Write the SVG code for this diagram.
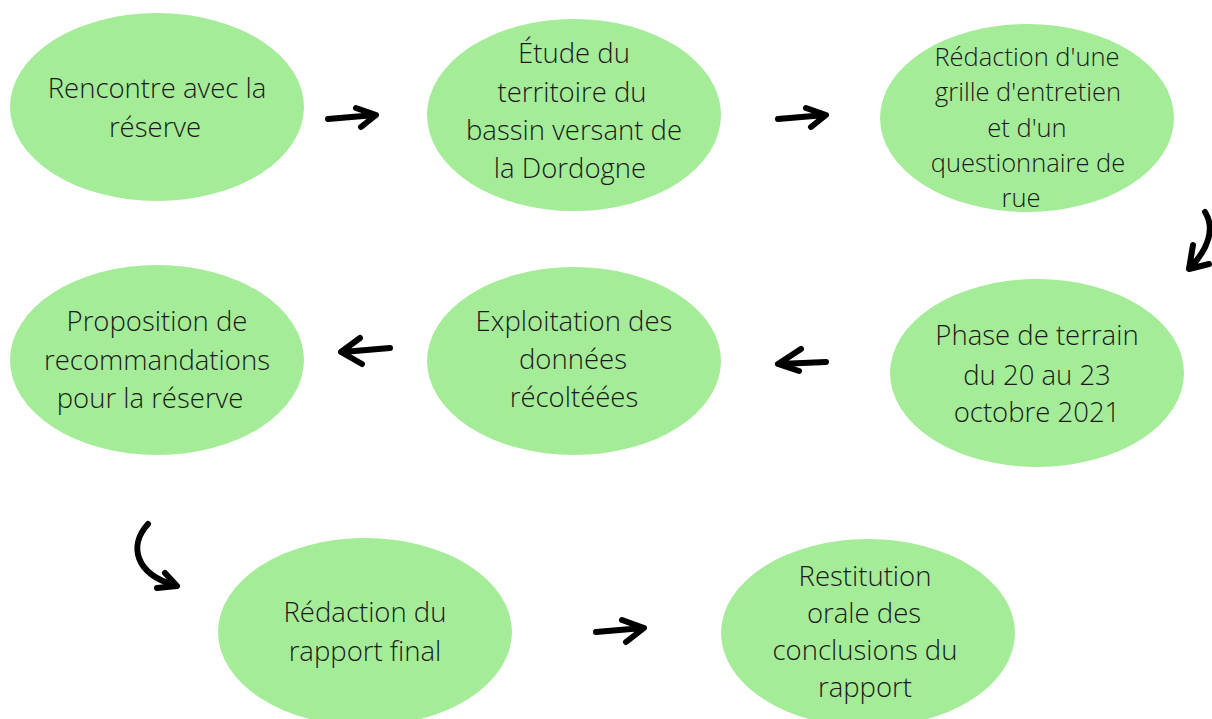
<svg xmlns="http://www.w3.org/2000/svg" width="1212" height="719" viewBox="0 0 1212 719">
<style>
.n{fill:#a4ec97}
.t{font-family:"Open Sans","Liberation Sans",sans-serif;font-weight:300;font-size:27.5px;fill:#1a1a1a;text-anchor:middle}
.s{font-size:25.5px}
.a{fill:none;stroke:#000;stroke-width:6;stroke-linecap:round;stroke-linejoin:round}
</style>
<rect width="1212" height="719" fill="#fff"/>
<g id="n1"><ellipse class="n" cx="157" cy="107" rx="147" ry="94"/>
<text class="t" x="157" y="98">Rencontre avec la</text><text class="t" x="155" y="137">réserve</text></g>
<g id="n2"><ellipse class="n" cx="574" cy="115" rx="147" ry="96"/>
<text class="t" x="574" y="63">Étude du</text><text class="t" x="572" y="102">territoire du</text><text class="t" x="574" y="140">bassin versant de</text><text class="t" x="570" y="178">la Dordogne</text></g>
<g id="n3"><ellipse class="n" cx="1027" cy="118" rx="147" ry="94"/>
<text class="t s" x="1027" y="66">Rédaction d'une</text><text class="t s" x="1028" y="101">grille d'entretien</text><text class="t s" x="1027" y="137">et d'un</text><text class="t s" x="1028" y="172">questionnaire de</text><text class="t s" x="1021" y="207">rue</text></g>
<g id="n4"><ellipse class="n" cx="157" cy="360" rx="147" ry="95"/>
<text class="t" x="157" y="331">Proposition de</text><text class="t" x="157" y="370">recommandations</text><text class="t" x="150" y="408">pour la réserve</text></g>
<g id="n5"><ellipse class="n" cx="574" cy="361" rx="147" ry="94"/>
<text class="t" x="574" y="331">Exploitation des</text><text class="t" x="573" y="369">données</text><text class="t" x="574" y="407">récoltéées</text></g>
<g id="n6"><ellipse class="n" cx="1037" cy="373" rx="147" ry="94"/>
<text class="t" x="1037" y="345">Phase de terrain</text><text class="t" x="1037" y="385">du 20 au 23</text><text class="t" x="1037" y="422">octobre 2021</text></g>
<g id="n7"><ellipse class="n" cx="365" cy="632" rx="147" ry="94"/>
<text class="t" x="365" y="622">Rédaction du</text><text class="t" x="365" y="661">rapport final</text></g>
<g id="n8"><ellipse class="n" cx="868" cy="633" rx="147" ry="94"/>
<text class="t" x="865" y="586">Restitution</text><text class="t" x="864" y="623">orale des</text><text class="t" x="865" y="660">conclusions du</text><text class="t" x="865" y="697">rapport</text></g>
<g id="connectors">
<path class="a" d="M328,119 L375,115 M356,108 L376,115 L361,127"/>
<path class="a" d="M778,119 L825,115 M806,108 L826,115 L811,127"/>
<path class="a" d="M1205,212 C1215,228 1209,248 1190,268 M1193,245 L1189,269 L1209,264"/>
<path class="a" d="M390,348 L343,352 M360,338 L341,352 L362,364"/>
<path class="a" d="M826,362 L779,364 M801,349 L778,364 L799,371"/>
<path class="a" d="M148,524 C128,546 136,574 174,585 M165,573 L177,586 L157,588"/>
<path class="a" d="M596,632 L643,628 M622,620 L644,628 L626,642"/>
</g>
</svg>
